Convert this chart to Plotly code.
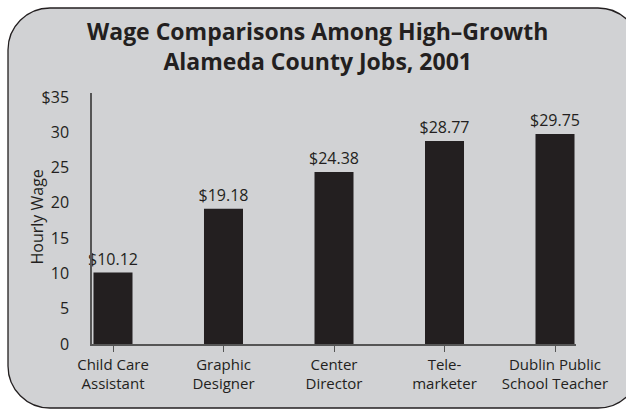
import plotly.graph_objects as go

categories = ["Child Care<br>Assistant", "Graphic<br>Designer", "Center<br>Director",
              "Tele-<br>marketer", "Dublin Public<br>School Teacher"]
wages = [10.12, 19.18, 24.38, 28.77, 29.75]
wage_labels = ["$10.12", "$19.18", "$24.38", "$28.77", "$29.75"]
y_ticks = [0, 5, 10, 15, 20, 25, 30, 35]
y_tick_labels = ["0", "5", "10", "15", "20", "25", "30", "$35"]

W, H = 626, 410
L, R, T, B = 92, 50, 93, 66
pw, ph = W - L - R, H - T - B

def px(x):
    return (x - L) / pw

def py(y):
    return (H - B - y) / ph

# rounded rectangle background (pixel spec -> paper coords)
x0, x1, y0, y1, r = 8, 640, 8, 408, 42
k = 0.5523 * r
pts = [
    ("M", [(x0 + r, y0)]),
    ("L", [(x1 - r, y0)]),
    ("C", [(x1 - r + k, y0), (x1, y0 + r - k), (x1, y0 + r)]),
    ("L", [(x1, y1 - r)]),
    ("C", [(x1, y1 - r + k), (x1 - r + k, y1), (x1 - r, y1)]),
    ("L", [(x0 + r, y1)]),
    ("C", [(x0 + r - k, y1), (x0, y1 - r + k), (x0, y1 - r)]),
    ("L", [(x0, y0 + r)]),
    ("C", [(x0, y0 + r - k), (x0 + r - k, y0), (x0 + r, y0)]),
]
path = ""
for cmd, ps in pts:
    path += cmd + " " + " ".join(f"{px(a):.5f},{py(b):.5f}" for a, b in ps) + " "
path += "Z"

fig = go.Figure(go.Bar(
    x=list(range(len(categories))),
    y=wages,
    width=0.353,
    marker=dict(color="#231f20", line=dict(width=0)),
    text=wage_labels,
    textposition="outside",
    constraintext="none",
    textfont=dict(family="Open Sans", size=16, color="#231f20"),
    cliponaxis=False,
))

fig.update_layout(
    width=W, height=H,
    margin=dict(l=L, r=R, t=T, b=B),
    paper_bgcolor="white",
    plot_bgcolor="rgba(0,0,0,0)",
    showlegend=False,
    font=dict(family="Open Sans", color="#231f20"),
    shapes=[dict(type="path", path=path, xref="paper", yref="paper",
                 fillcolor="#d1d2d4", line=dict(color="#231f20", width=1.3),
                 layer="below")],
    annotations=[
        dict(text="<b>Wage Comparisons Among High–Growth<br>Alameda County Jobs, 2001</b>",
             x=px(317), y=py(46), xref="paper", yref="paper",
             xanchor="center", yanchor="middle", showarrow=False,
             font=dict(family="Open Sans", size=23, color="#231f20")),
        dict(text="Hourly Wage", x=px(36.5), y=py(217), xref="paper", yref="paper",
             xanchor="center", yanchor="middle", textangle=-90, showarrow=False,
             font=dict(family="Open Sans", size=16, color="#231f20")),
    ],
)

fig.update_xaxes(
    range=[-0.19, 4.19],
    tickmode="array", tickvals=list(range(len(categories))), ticktext=categories,
    ticks="outside", ticklen=6, tickwidth=1.2, tickcolor="#555555",
    showline=True, linecolor="#555555", linewidth=1.5,
    showgrid=False, zeroline=False,
    tickfont=dict(family="Open Sans", size=15, color="#231f20"),
)
fig.update_yaxes(
    range=[0, 35.57],
    tickmode="array", tickvals=y_ticks, ticktext=y_tick_labels,
    ticks="", ticklabelstandoff=18,
    showline=True, linecolor="#555555", linewidth=1.5,
    showgrid=False, zeroline=False,
    tickfont=dict(family="Open Sans", size=16, color="#231f20"),
)

fig.write_html("out.html", config={"displayModeBar": False},
               post_script="document.body.style.margin='0';document.body.style.overflow='hidden';")
